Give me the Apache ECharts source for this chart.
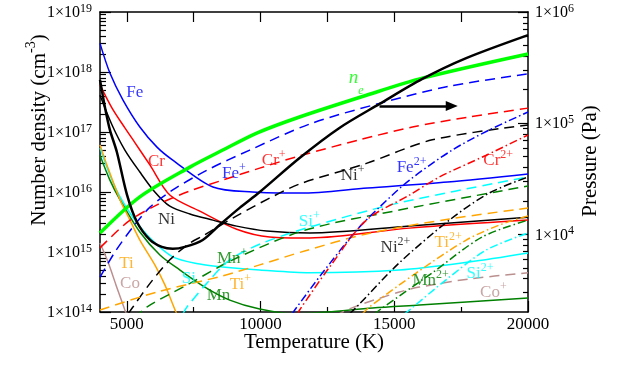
<!DOCTYPE html>
<html><head><meta charset="utf-8">
<script src="https://cdn.jsdelivr.net/npm/echarts@6/dist/echarts.min.js"></script>
<style>html,body{margin:0;padding:0;background:#fff}#c{width:617px;height:365px}</style>
</head><body><div id="c"></div>
<script>
const FONT = 'Liberation Serif, Times New Roman, serif';

// Tick values
const xMajor = [5000, 10000, 15000, 20000];
const xMinor = [7500, 12500, 17500];
const xTop = [5000, 7500, 10000, 12500, 15000, 17500];
const nDecades = [14, 15, 16, 17, 18, 19];
const pDecades = [4, 5, 6];
const pMin = 2000, pMax = 1e6;

// Neutral atoms (cm^-3), [T, n]
const fe = [[4000,3.0e18],[4370,9.6e17],[4860,3.4e17],[5490,1.21e17],[6130,5.6e16],[6720,3.4e16],[8220,1.21e16],[9700,1.0e16],[11500,9.6e15],[14000,1.17e16],[17000,1.47e16],[20000,2.0e16]];
const cr = [[4000,6.1e17],[4450,2.5e17],[4930,1.17e17],[5310,6.6e16],[5870,2.8e16],[6610,8.9e15],[7730,4.8e15],[9110,2.4e15],[10340,1.78e15],[11840,1.71e15],[15570,2.5e15],[20000,3.4e15]];
const ni = [[4000,4.1e17],[4450,1.31e17],[4930,5.0e16],[5490,2.15e16],[6050,1.0e16],[6610,5.8e15],[7360,4.3e15],[8220,3.4e15],[9110,2.7e15],[10230,2.24e15],[11840,2.07e15],[15570,2.7e15],[20000,3.8e15]];
const si = [[4000,5.4e16],[4370,1.92e16],[4750,8.3e15],[5230,3.8e15],[5870,1.71e15],[6720,8.3e14],[7730,6.3e14],[8590,5.6e14],[9970,5.0e14],[11840,4.5e14],[15190,5.0e14],[17800,6.8e14],[20000,9.6e14]];
const mn = [[4000,4.1e16],[4370,1.58e16],[4750,7.4e15],[5490,2.15e15],[6240,8.9e14],[6990,5.0e14],[7920,2.6e14],[8850,1.58e14],[9970,1.12e14],[11280,9.3e13],[12510,1.0e14],[14190,1.17e14],[15940,1.31e14],[20000,1.71e14]];
const ti = [[4000,6.1e16],[4260,2.8e16],[4750,7.4e15],[5120,3.4e15],[5490,1.58e15],[6050,6.1e14],[6430,2.8e14],[6840,1.0e14],[7100,5.8e13]];
const co = [[4000,1.41e15],[4300,6.8e14],[4600,2.8e14],[4930,1.08e14],[5050,7.9e13]];
// Electrons
const ne = [[4000,2.07e15],[5490,8.3e15],[7360,2.6e16],[8590,5.0e16],[9860,9.6e16],[11460,1.78e17],[13960,4.1e17],[16050,7.9e17],[20000,2.0e18]];
// Singly ionised
const feP = [[4000,3.8e14],[4560,1.0e15],[5230,2.6e15],[5870,5.6e15],[6720,1.08e16],[7990,2.3e16],[9600,5.0e16],[11840,1.36e17],[14450,3.0e17],[17060,5.8e17],[20000,9.3e17]];
const crP = [[4000,1.17e15],[5050,3.2e15],[6130,6.1e15],[7360,1.04e16],[8590,1.58e16],[9970,2.5e16],[11460,4.0e16],[13700,7.4e16],[15680,1.21e17],[17800,1.78e17],[20000,2.5e17]];
const niP = [[5050,9.3e13],[5230,1.21e14],[5870,3.0e14],[6610,7.4e14],[7360,1.41e15],[7840,1.85e15],[9110,4.0e15],[10340,7.9e15],[11460,1.36e16],[13960,3.0e16],[16420,7.4e16],[20000,1.31e17]];
const mnP = [[5300,7.9e13],[5750,1.21e14],[7360,3.0e14],[8960,7.4e14],[11650,2.3e15],[15190,5.0e15],[20000,1.26e16]];
const siP = [[7100,9.3e13],[7250,1.21e14],[7990,3.0e14],[8850,7.4e14],[10080,1.41e15],[11840,2.6e15],[15190,6.6e15],[20000,1.78e16]];
const tiP = [[4000,1.08e14],[6130,2.15e14],[8590,4.0e14],[9970,6.1e14],[11650,1.04e15],[13960,2.0e15],[17060,3.55e15],[20000,5.4e15]];
const coP = [[12800,8.5e13],[13070,1.0e14],[13700,1.31e14],[15190,2.15e14],[15940,2.6e14],[17800,3.55e14],[20000,4.5e14]];
// Doubly ionised
const fe2 = [[11200,9.3e13],[11280,1.08e14],[12320,4.5e14],[13590,2.3e15],[14450,5.6e15],[15570,1.58e16],[17170,5.0e16],[18550,1.08e17],[20000,2.15e17]];
const cr2 = [[11390,9.3e13],[11460,1.08e14],[12580,5.6e14],[13960,3.4e15],[15570,8.9e15],[16690,1.78e16],[18440,4.1e16],[20000,8.9e16]];
const ni2 = [[13330,9.3e13],[13590,1.21e14],[15190,6.6e14],[17060,3.4e15],[18550,9.6e15],[20000,1.78e16]];
const ti2 = [[13810,9.3e13],[14070,1.21e14],[15830,4.5e14],[17690,1.58e15],[18920,2.8e15],[20000,4.0e15]];
const mn2 = [[14260,9.3e13],[14450,1.08e14],[16420,4.5e14],[18290,1.78e15],[20000,3.4e15]];
const si2 = [[15380,9.3e13],[15570,1.08e14],[17060,3.8e14],[18440,1.08e15],[20000,2.07e15]];
// Pressure (Pa), right axis
const pressure = [[4000,2.45e5],[4190,1.37e5],[4370,8.7e4],[4630,5.5e4],[5010,2.26e4],[5380,1.29e4],[5870,8.9e3],[6310,7.7e3],[6720,7.4e3],[7170,7.7e3],[7840,8.9e3],[8480,1.22e4],[9220,1.73e4],[9970,2.4e4],[11460,4.86e4],[12950,9.06e4],[14450,1.49e5],[16050,2.5e5],[17690,3.85e5],[20000,6.2e5]];

// Curve labels: [text, superscript, colour, T, n]
const labelItems = [
  ['Fe','','#0000ff',4980,4.82e17],
  ['Cr','','#ff0000',5790,3.41e16],
  ['Ni','','#000000',6170,3.69e15],
  ['Ti','','#ffa500',4720,6.8e14],
  ['Co','','#bc8f8f',4750,3.16e14],
  ['Si','','#00ffff',7060,3.83e14],
  ['Mn','','#008000',7990,2.0e14],
  ['Mn','+','#008000',8370,8.26e14],
  ['Ti','+','#ffa500',8850,3.04e14],
  ['Fe','+','#0000ff',8560,2.15e16],
  ['Cr','+','#ff0000',10050,3.55e16],
  ['Ni','+','#000000',13000,2.0e16],
  ['Si','+','#00ffff',11430,3.41e15],
  ['Fe','2+','#0000ff',15090,2.71e16],
  ['Cr','2+','#ff0000',18330,3.55e16],
  ['Ni','2+','#000000',14490,1.26e15],
  ['Ti','2+','#ffa500',16500,1.52e15],
  ['Mn','2+','#008000',15680,3.55e14],
  ['Si','2+','#00ffff',17700,4.64e14],
  ['Co','+','#bc8f8f',18210,2.24e14]
];
const neLabel = [13300, 6.6e17];
const arrow = [[14450, 2.71e17], [17150, 2.71e17]];

const L = Math.log10;
const lg = pts => pts.map(p => [p[0], L(p[1])]);
const DASH = [10, 6], DOT = [8, 3, 1.5, 3];

function mk(pts, color, type, width, yIdx, z) {
  return { type: 'line', data: lg(pts), xAxisIndex: 0, yAxisIndex: yIdx || 0,
    symbol: 'none', smooth: 0.3, silent: true, z: z || 2,
    lineStyle: { color: color, width: width, type: type } };
}

const nMinor = [], pMinor = [];
for (let d = 14; d < 19; d++) for (let k = 2; k <= 9; k++) nMinor.push(d + L(k));
for (let d = 3; d < 6; d++) for (let k = 2; k <= 9; k++) { const v = d + L(k); if (v > L(pMin) + 1e-6) pMinor.push(v); }

const axRich = {
  b: { fontSize: 16, fontFamily: FONT, color: '#000', lineHeight: 18, verticalAlign: 'bottom' },
  s: { fontSize: 12, fontFamily: FONT, color: '#000', lineHeight: 10, verticalAlign: 'top' }
};
const expFmt = v => '{b|1×10}{s|' + Math.round(v) + '}';
const line = { show: true, onZero: false, lineStyle: { color: '#000', width: 1.5 } };
const noLine = { show: false, onZero: false };
const tk = (vals, len) => ({ show: true, inside: true, length: len, customValues: vals, lineStyle: { color: '#000', width: 1.2 } });

const series = [
  mk(fe, '#0000ff', 'solid', 1.5), mk(cr, '#ff0000', 'solid', 1.5), mk(ni, '#000', 'solid', 1.5),
  mk(si, '#00ffff', 'solid', 1.5), mk(mn, '#008000', 'solid', 1.5), mk(ti, '#ffa500', 'solid', 1.5),
  mk(co, '#bc8f8f', 'solid', 1.5),
  mk(feP, '#0000ff', DASH, 1.5), mk(crP, '#ff0000', DASH, 1.5), mk(niP, '#000', DASH, 1.5),
  mk(mnP, '#008000', DASH, 1.5), mk(siP, '#00ffff', DASH, 1.5), mk(tiP, '#ffa500', DASH, 1.5),
  mk(coP, '#bc8f8f', DASH, 1.5),
  mk(fe2, '#0000ff', DOT, 1.5), mk(cr2, '#ff0000', DOT, 1.5), mk(ni2, '#000', DOT, 1.5),
  mk(ti2, '#ffa500', DOT, 1.5), mk(mn2, '#008000', DOT, 1.5), mk(si2, '#00ffff', DOT, 1.5),
  mk(ne, '#00ff00', 'solid', 3.5, 0, 3),
  mk(pressure, '#000', 'solid', 2.5, 2, 4)
];

const labData = labelItems.map(it => ({
  value: [it[3], L(it[4])],
  label: {
    formatter: '{b|' + it[0] + '}' + (it[1] ? '{s|' + it[1] + '}' : ''),
    rich: {
      b: { fontSize: 17, fontFamily: FONT, color: it[2], lineHeight: 20, verticalAlign: 'bottom' },
      s: { fontSize: 12, fontFamily: FONT, color: it[2], lineHeight: 8, verticalAlign: 'top' }
    }
  }
}));
labData.push({
  value: [neLabel[0], L(neLabel[1])],
  label: {
    formatter: '{n|n}{e|e}',
    rich: {
      n: { fontSize: 19, fontStyle: 'italic', fontFamily: FONT, color: '#00ff00', lineHeight: 28, verticalAlign: 'top' },
      e: { fontSize: 12, fontStyle: 'italic', fontFamily: FONT, color: '#00ff00', lineHeight: 10, verticalAlign: 'bottom' }
    }
  }
});

series.push({
  type: 'scatter', xAxisIndex: 0, yAxisIndex: 0, symbolSize: 1, silent: true, z: 10,
  itemStyle: { color: 'rgba(0,0,0,0)' },
  label: { show: true, position: 'inside', align: 'left', verticalAlign: 'middle' },
  data: labData,
  markLine: {
    silent: true, animation: false, symbol: ['none', 'triangle'], symbolSize: [10, 12],
    label: { show: false }, lineStyle: { color: '#000', width: 2.5, type: 'solid' },
    data: [[{ coord: [arrow[0][0], L(arrow[0][1])] }, { coord: [arrow[1][0], L(arrow[1][1])] }]]
  }
});

const chart = echarts.init(document.getElementById('c'), null, { renderer: 'canvas' });
chart.setOption({
  animation: false,
  backgroundColor: '#fff',
  grid: { left: 100, right: 89, top: 12, bottom: 53, containLabel: false },
  xAxis: [
    { type: 'value', position: 'bottom', min: 4000, max: 20000, axisLine: line, axisTick: tk(xMajor, 11),
      axisLabel: { show: true, customValues: xMajor, margin: 4, fontSize: 17, fontFamily: FONT, color: '#000', formatter: v => String(v) },
      splitLine: { show: false } },
    { type: 'value', position: 'bottom', min: 4000, max: 20000, axisLine: noLine, axisTick: tk(xMinor, 5),
      axisLabel: { show: false }, splitLine: { show: false } },
    { type: 'value', position: 'top', min: 4000, max: 20000, axisLine: line, axisTick: tk(xTop, 10),
      axisLabel: { show: false }, splitLine: { show: false } }
  ],
  yAxis: [
    { type: 'value', position: 'left', min: 14, max: 19, axisLine: line, axisTick: tk(nDecades, 11),
      axisLabel: { show: true, customValues: nDecades, margin: 8, formatter: expFmt, rich: axRich },
      splitLine: { show: false } },
    { type: 'value', position: 'left', min: 14, max: 19, axisLine: noLine, axisTick: tk(nMinor, 6),
      axisLabel: { show: false }, splitLine: { show: false } },
    { type: 'value', position: 'right', min: L(pMin), max: L(pMax), axisLine: line, axisTick: tk(pDecades, 10),
      axisLabel: { show: true, customValues: pDecades, margin: 7, formatter: expFmt, rich: axRich },
      splitLine: { show: false } },
    { type: 'value', position: 'right', min: L(pMin), max: L(pMax), axisLine: noLine, axisTick: tk(pMinor, 5),
      axisLabel: { show: false }, splitLine: { show: false } }
  ],
  graphic: [
    { type: 'text', x: 314, y: 342, silent: true,
      style: { text: 'Temperature (K)', font: '21px ' + FONT, fill: '#000', align: 'center', verticalAlign: 'middle' } },
    { type: 'text', x: 37, y: 130, rotation: Math.PI / 2, silent: true,
      style: { text: '{b|Number density (cm}{s|-3}{b|)}', fill: '#000', align: 'center', verticalAlign: 'middle',
        rich: { b: { fontSize: 21, fontFamily: FONT, fill: '#000', lineHeight: 26, verticalAlign: 'bottom' },
                s: { fontSize: 14, fontFamily: FONT, fill: '#000', lineHeight: 12, verticalAlign: 'top' } } } },
    { type: 'text', x: 590, y: 161, rotation: Math.PI / 2, silent: true,
      style: { text: 'Pressure (Pa)', font: '21px ' + FONT, fill: '#000', align: 'center', verticalAlign: 'middle' } }
  ],
  series: series
});
</script>
</body></html>
